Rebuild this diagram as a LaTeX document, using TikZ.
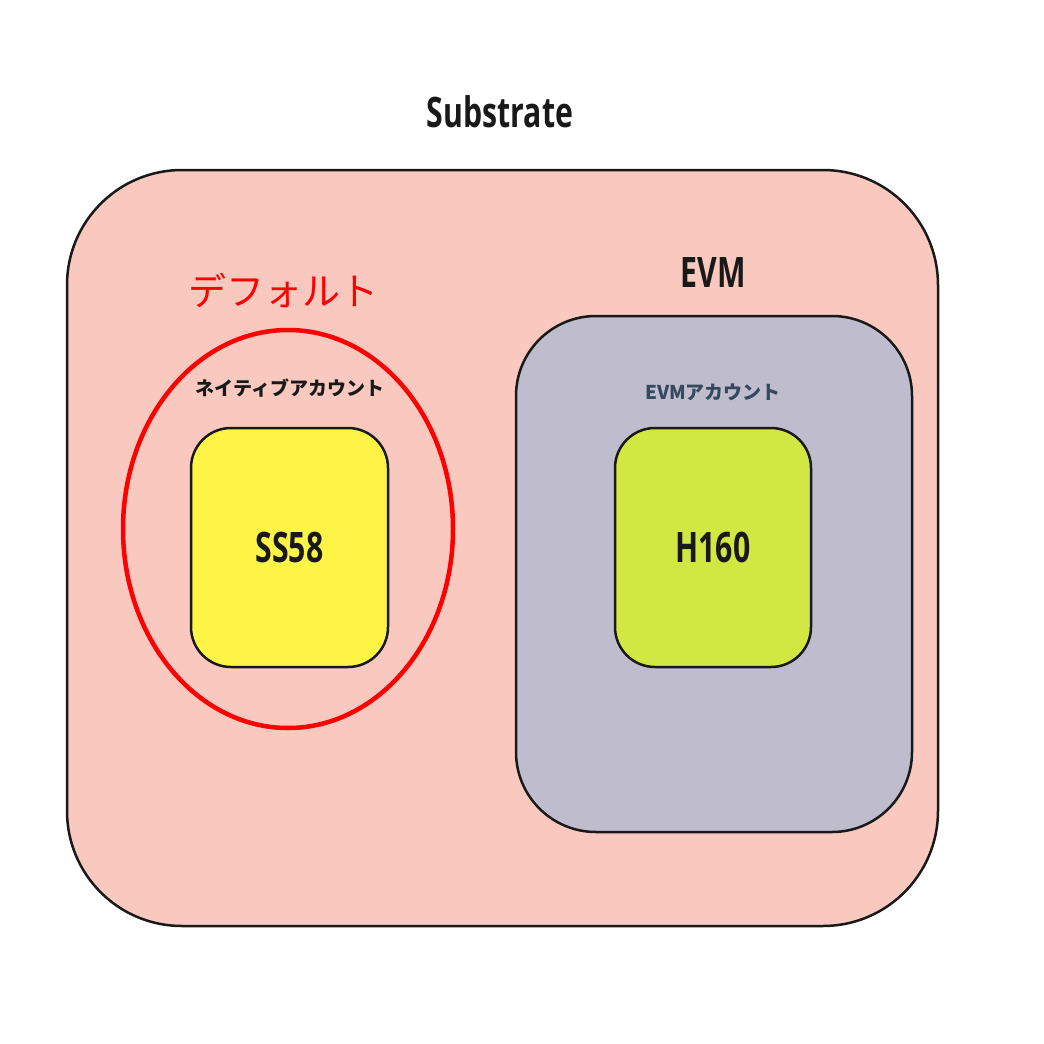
\documentclass[tikz,border=0pt]{standalone}
\usepackage{fontspec}
\setmainfont{Open Sans}
\newfontfamily\cjk{Noto Sans CJK JP}
\newfontfamily\cnd[FakeStretch=0.72]{Open Sans Bold}
\usetikzlibrary{shapes.geometric}
\definecolor{outerc}{HTML}{F9C8BE}
\definecolor{greyc}{HTML}{BFBCCD}
\definecolor{yel}{HTML}{FEF445}
\definecolor{grn}{HTML}{D1E843}
\definecolor{slate}{HTML}{34495E}
\tikzset{box/.style={draw=black!90,line width=2.5pt},
 big/.style={font=\cnd\fontsize{42}{44}\selectfont,text=black!90},
 lbl/.style={font=\cjk\bfseries\fontsize{19}{21}\selectfont}}
\begin{document}
\begin{tikzpicture}[x=1pt,y=-1pt]
\useasboundingbox (0,0) rectangle (1044,1044);
\fill[white] (0,0) rectangle (1044,1044);
\draw[box,fill=outerc,rounded corners=115pt] (67,170) rectangle (938,926);
\draw[box,fill=greyc,rounded corners=80pt] (516,316) rectangle (912,832);
\node[draw=red,line width=4.5pt,ellipse,minimum width=330pt,minimum height=398pt,inner sep=0pt] (ell) at (288,529) {};
\node[box,fill=yel,rounded corners=40pt,minimum width=197pt,minimum height=239pt,inner sep=0pt] (ss) at (289.5,547.5) {};
\node[box,fill=grn,rounded corners=40pt,minimum width=196pt,minimum height=239pt,inner sep=0pt] (h) at (713,547.5) {};
\node[big] (sub) at (500,112) {Substrate};
\node[big] (evm) at (713,273) {EVM};
\node[big] at (ss.center) {SS58};
\node[big] at (h.center) {H160};
\node[font=\cjk\fontsize{38}{40}\selectfont,text=red] (def) at (283,290) {デフォルト};
\node[lbl,text=black!90] (na) at (290,388) {ネイティブアカウント};
\node[lbl,text=slate] (ea) at (713,392) {EVMアカウント};
\end{tikzpicture}
\end{document}
